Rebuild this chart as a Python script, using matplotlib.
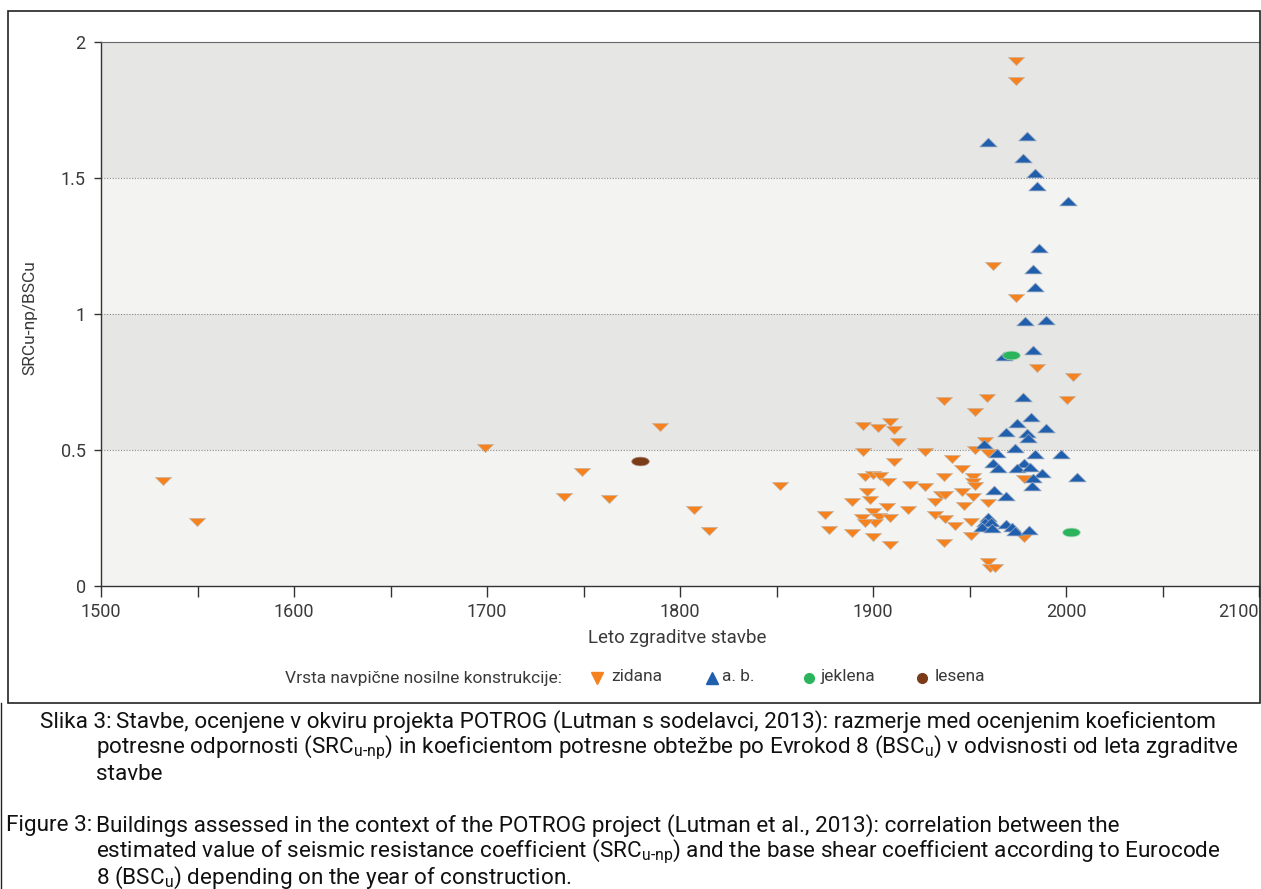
import matplotlib
matplotlib.use('Agg')
import matplotlib.pyplot as plt
import numpy as np
from matplotlib.path import Path
from matplotlib.lines import Line2D
from matplotlib.patches import Rectangle

FONT = ['Roboto', 'DejaVu Sans']
plt.rcParams['font.family'] = FONT

# zidana (masonry)
zid_year = [1532, 1549.5, 1699, 1740, 1749, 1763, 1789.5, 1807.5, 1815, 1852, 1875, 1877, 1889, 1889,
            1895, 1908.8, 1902.8, 1911, 1913, 1895, 1927, 1911, 1941, 1946, 1896, 1900, 1903.5, 1937,
            1908, 1919, 1927, 1897, 1946, 1935, 1937.5, 1932, 1898.5, 1907, 1947, 1918, 1900, 1932,
            1894.5, 1903, 1909, 1937.5, 1951, 1901, 1896, 1942.5, 1900, 1909, 1937, 1951, 1978,
            1937, 1959, 1953, 2000.7, 2003.8, 1984.8, 1974, 1962, 1974, 1974,
            1958, 1953, 1959.7, 1952, 1952, 1953, 1978, 1952, 1959.7, 1959.7, 1960.6, 1963.2]
zid_val = [0.386, 0.236, 0.506, 0.328, 0.418, 0.32, 0.583, 0.279, 0.203, 0.368, 0.261, 0.206, 0.31, 0.194,
           0.59, 0.604, 0.580, 0.574, 0.528, 0.494, 0.494, 0.457, 0.466, 0.429, 0.402, 0.408, 0.404, 0.402,
           0.383, 0.371, 0.363, 0.347, 0.347, 0.335, 0.335, 0.310, 0.316, 0.292, 0.294, 0.279, 0.273, 0.261,
           0.25, 0.255, 0.249, 0.245, 0.236, 0.230, 0.23, 0.221, 0.179, 0.151, 0.157, 0.184, 0.175,
           0.680, 0.690, 0.641, 0.684, 0.767, 0.803, 1.06, 1.176, 1.858, 1.931,
           0.533, 0.50, 0.488, 0.402, 0.383, 0.368, 0.393, 0.328, 0.304, 0.089, 0.065, 0.065]

# a. b. (reinforced concrete)
ab_year = [1959.7, 1979.8, 1977.7, 1983.9, 1984.8, 2000.8, 1986, 1983.1, 1983.9, 1978.8, 1989.6, 1983.1, 1968,
           1977.5, 1981.7, 1974.8, 1989.6, 1968.9, 1979.6, 1980.5, 1957.5, 1973.6, 1964.4, 1983.9, 1997.4,
           1962.3, 1978.2, 1964.9, 1974.4, 1981.3, 1987.4, 1983.1, 2005.5, 1982.2, 1962.7, 1968.9,
           1959.7, 1958, 1961, 1956.3, 1961.5, 1968.8, 1971.8, 1973.6, 1980.8]
ab_val = [1.631, 1.656, 1.574, 1.517, 1.471, 1.415, 1.243, 1.164, 1.098, 0.975, 0.978, 0.868, 0.845,
          0.694, 0.623, 0.598, 0.582, 0.565, 0.561, 0.543, 0.521, 0.506, 0.490, 0.485, 0.485,
          0.451, 0.451, 0.433, 0.433, 0.436, 0.417, 0.398, 0.400, 0.368, 0.353, 0.332,
          0.255, 0.236, 0.236, 0.218, 0.212, 0.228, 0.218, 0.203, 0.206]

# jeklena (steel)
jek_year = [1971.5, 2002.6]
jek_val = [0.849, 0.197]

# lesena (timber)
les_year = [1779.5]
les_val = [0.46]

C_ZID = '#f5821f'
C_AB = '#1f5fae'
C_JEK = '#2cb45c'
C_LES = '#7b3b18'
TXT = '#3a3a3a'

tri_down = Path([(-1, 0.5), (1, 0.5), (0, -0.5), (-1, 0.5)],
                [Path.MOVETO, Path.LINETO, Path.LINETO, Path.CLOSEPOLY])
tri_up = Path([(-1, -0.5), (1, -0.5), (0, 0.5), (-1, -0.5)],
              [Path.MOVETO, Path.LINETO, Path.LINETO, Path.CLOSEPOLY])
circ = Path.unit_circle()
ellipse = Path(circ.vertices * np.array([1.0, 0.5]), circ.codes)

W, H = 1261, 889
def fx(px):
    return px / W
def fy(py):
    return 1 - py / H

fig = plt.figure(figsize=(12.61, 8.89), dpi=100)
fig.patch.set_facecolor('white')

# outer frame around the chart
fig.add_artist(Rectangle((fx(8), fy(703)), 1 - fx(8) - 0.001, (703 - 11) / H,
                         transform=fig.transFigure, fill=False, edgecolor='#222222', lw=1.2))
fig.add_artist(Line2D([0.001, 0.001], [0, fy(703)], transform=fig.transFigure,
                      color='#222222', lw=1.0))

ax = fig.add_axes([fx(101), fy(586), 1158 / W, 544 / H])
ax.set_xlim(1500, 2100)
ax.set_ylim(0, 2)

# alternating bands
band_cols = ['#f3f3f2', '#e6e6e5', '#f3f3f2', '#e6e6e5']
for i, c in enumerate(band_cols):
    ax.axhspan(i * 0.5, (i + 1) * 0.5, color=c, zorder=0, lw=0)
for yv in [0.5, 1.0, 1.5]:
    ax.axhline(yv, color='#8a8a8a', lw=0.8, ls=(0, (1, 1.5)), zorder=1)

ax.scatter(zid_year, zid_val, marker=tri_down, s=140, color=C_ZID, edgecolors='#c8b8a8', linewidths=0.5, zorder=3)
ax.scatter(ab_year, ab_val, marker=tri_up, s=160, color=C_AB, edgecolors='#9aa8bd', linewidths=0.5, zorder=4)
ax.scatter(jek_year, jek_val, marker=ellipse, s=160, color=C_JEK, edgecolors='#b0d8bd', linewidths=0.5, zorder=5)
ax.scatter(les_year, les_val, marker=ellipse, s=160, color=C_LES, edgecolors='#b09080', linewidths=0.5, zorder=5)

ax.spines['right'].set_visible(False)
for s in ['left', 'bottom']:
    ax.spines[s].set_color('#333333')
    ax.spines[s].set_linewidth(1.0)
ax.spines['top'].set_color('#666666')

ax.set_xticks(np.arange(1500, 2101, 100))
ax.set_xticks(np.arange(1550, 2100, 100), minor=True)
ax.set_yticks([0, 0.5, 1, 1.5, 2])
ax.set_yticklabels(['0', '0.5', '1', '1.5', '2'])
ax.tick_params(axis='x', which='both', direction='out', length=8, width=1, color='#333333',
               labelsize=13, pad=4, labelcolor=TXT)
ax.tick_params(axis='y', direction='out', length=5, width=1, color='#333333',
               labelsize=13, pad=6, labelcolor=TXT)
xl = ax.get_xticklabels()
xl[-1].set_horizontalalignment('right')

fig.text(fx(30), fy(318), 'SRCu-np/BSCu', rotation=90, ha='center', va='center',
         fontsize=12.5, color=TXT)
fig.text(fx(677), fy(638), 'Leto zgraditve stavbe', ha='center', va='center',
         fontsize=13.5, color=TXT)

# legend row
ly = fy(678)
fig.text(fx(285), ly, 'Vrsta navpične nosilne konstrukcije:', ha='left', va='center',
         fontsize=12.5, color=TXT)
leg_items = [('v', C_ZID, 8, 597, 'zidana', 611),
             ('^', C_AB, 8, 712, 'a. b.', 722),
             ('o', C_JEK, 7, 809, 'jeklena', 820),
             ('o', C_LES, 7, 922, 'lesena', 935)]
for mk, col, ms, mx, lab, tx in leg_items:
    fig.add_artist(Line2D([fx(mx)], [ly], marker=mk, ms=ms, color=col, ls='',
                          transform=fig.transFigure))
    fig.text(fx(tx), ly + 0.002, lab, ha='left', va='center', fontsize=12.5, color=TXT)

# caption
cap_fs = 16.2
CAP = '#111111'
lh = 26 / H
sub1 = r'$_{\mathregular{u‐np}}$'
sub2 = r'$_{\mathregular{u}}$'
y0 = fy(722)
fig.text(fx(112), y0, 'Slika 3:', fontsize=cap_fs, va='center', ha='right', color=CAP)
fig.text(fx(116), y0, 'Stavbe, ocenjene v okviru projekta POTROG (Lutman s sodelavci, 2013): razmerje med ocenjenim koeficientom',
         fontsize=cap_fs, va='center', ha='left', color=CAP)
fig.text(fx(96), y0 - lh, 'potresne odpornosti (SRC' + sub1 + ') in koeficientom potresne obtežbe po Evrokod 8 (BSC' + sub2 + ') v odvisnosti od leta zgraditve',
         fontsize=cap_fs, va='center', ha='left', color=CAP)
fig.text(fx(96), y0 - 2 * lh, 'stavbe', fontsize=cap_fs, va='center', ha='left', color=CAP)

y1 = fy(826)
fig.text(fx(92), y1, 'Figure 3:', fontsize=cap_fs, va='center', ha='right', color=CAP)
fig.text(fx(96), y1, 'Buildings assessed in the context of the POTROG project (Lutman et al., 2013): correlation between the',
         fontsize=cap_fs, va='center', ha='left', color=CAP)
fig.text(fx(96), y1 - lh, 'estimated value of seismic resistance coefficient (SRC' + sub1 + ') and the base shear coefficient according to Eurocode',
         fontsize=cap_fs, va='center', ha='left', color=CAP)
fig.text(fx(96), y1 - 2 * lh, '8 (BSC' + sub2 + ') depending on the year of construction.',
         fontsize=cap_fs, va='center', ha='left', color=CAP)

fig.savefig('out.png', dpi=100)
